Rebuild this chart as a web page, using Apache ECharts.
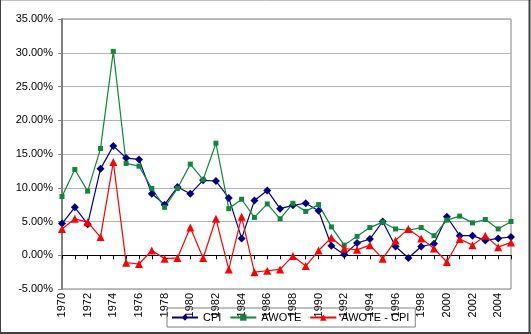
<!DOCTYPE html>
<html>
<head>
<meta charset="utf-8">
<script src="https://cdn.jsdelivr.net/npm/echarts@6/dist/echarts.min.js"></script>
<style>
html,body{margin:0;padding:0;background:#fff;}
#c{width:531px;height:334px;}
</style>
</head>
<body>
<div id="c"></div>
<script>
var years = [];
for (var y = 1970; y <= 2005; y++) years.push(String(y));

var cpi = [4.7, 7.1, 4.6, 12.8, 16.2, 14.4, 14.2, 9.1, 7.5, 10.1, 9.1, 11.1,
  11.0, 8.5, 2.5, 8.1, 9.6, 6.9, 7.4, 7.7, 6.6, 1.4, 0.1, 1.8,
  2.4, 5.0, 1.3, -0.4, 1.3, 1.7, 5.7, 2.9, 2.9, 2.2, 2.5, 2.7];

var awote = [8.7, 12.7, 9.5, 15.8, 30.2, 13.6, 13.2, 9.9, 7.1, 9.9, 13.5, 11.2,
  16.6, 6.9, 8.3, 5.6, 7.6, 5.4, 7.7, 6.5, 7.5, 4.2, 1.5, 2.8,
  4.1, 4.9, 3.9, 3.7, 4.1, 2.9, 5.2, 5.8, 4.8, 5.3, 3.9, 5.0];

var diff = [3.9, 5.4, 4.9, 2.7, 13.8, -1.1, -1.3, 0.7, -0.5, -0.4, 4.1, -0.4,
  5.4, -2.1, 5.7, -2.5, -2.3, -2.1, -0.1, -1.6, 0.7, 2.6, 1.0, 0.8,
  1.5, -0.5, 2.2, 3.9, 2.5, 1.0, -1.0, 2.4, 1.5, 2.9, 1.2, 1.9];

var yMin = -5, yMax = 35, yStep = 5;

var chart = echarts.init(document.getElementById('c'), null, {renderer: 'canvas'});
var font = 'Liberation Sans, Arial, sans-serif';
chart.setOption({
  animation: false,
  backgroundColor: '#ffffff',
  textStyle: {fontFamily: font},
  grid: {left: 62, top: 19, right: 20, bottom: 45, show: true, borderColor: '#808080', borderWidth: 1},
  legend: {
    left: 167, top: 308,
    padding: [4, 6, 4, 4],
    itemGap: 8,
    itemWidth: 26, itemHeight: 8,
    borderColor: '#808080', borderWidth: 1, borderRadius: 0,
    textStyle: {fontFamily: font, fontSize: 11, color: '#000'},
    data: ['CPI', 'AWOTE', 'AWOTE - CPI']
  },
  xAxis: {
    type: 'category',
    data: years,
    boundaryGap: false,
    axisLine: {onZero: true, lineStyle: {color: '#000', width: 1}},
    axisTick: {show: true, interval: 0, length: 4, lineStyle: {color: '#000'}},
    axisLabel: {interval: 1, rotate: 90, fontSize: 11, color: '#000', fontFamily: font, margin: 4},
    splitLine: {show: false}
  },
  yAxis: {
    type: 'value',
    min: yMin, max: yMax, interval: yStep,
    axisLine: {show: true, lineStyle: {color: '#808080', width: 2}},
    axisTick: {show: true, length: 4, lineStyle: {color: '#808080'}},
    axisLabel: {fontSize: 11, color: '#000', fontFamily: font, margin: 9,
      formatter: function (v) { return v.toFixed(2) + '%'; }},
    splitLine: {show: true, lineStyle: {color: '#b4b4b4', width: 1}}
  },
  series: [
    {name: 'CPI', type: 'line', data: cpi, symbol: 'diamond', symbolSize: 8,
     color: '#000080', lineStyle: {width: 1.2, color: '#000080'}, itemStyle: {color: '#000080'}},
    {name: 'AWOTE', type: 'line', data: awote, symbol: 'rect', symbolSize: 5,
     color: '#10873a', lineStyle: {width: 1.2, color: '#10873a'}, itemStyle: {color: '#10873a'}},
    {name: 'AWOTE - CPI', type: 'line', data: diff, symbol: 'triangle', symbolSize: 8,
     color: '#ff0000', lineStyle: {width: 1.2, color: '#ff0000'}, itemStyle: {color: '#ff0000'}}
  ],
  graphic: [
    {type: 'line', shape: {x1: 0, y1: 0.5, x2: 531, y2: 0.5}, style: {stroke: '#c0c0c0', lineWidth: 1}},
    {type: 'line', shape: {x1: 0.5, y1: 0, x2: 0.5, y2: 334}, style: {stroke: '#404040', lineWidth: 1}},
    {type: 'line', shape: {x1: 529.5, y1: 0, x2: 529.5, y2: 334}, style: {stroke: '#404040', lineWidth: 2}},
    {type: 'line', shape: {x1: 0, y1: 333, x2: 531, y2: 333}, style: {stroke: '#404040', lineWidth: 2}}
  ]
});
</script>
</body>
</html>
